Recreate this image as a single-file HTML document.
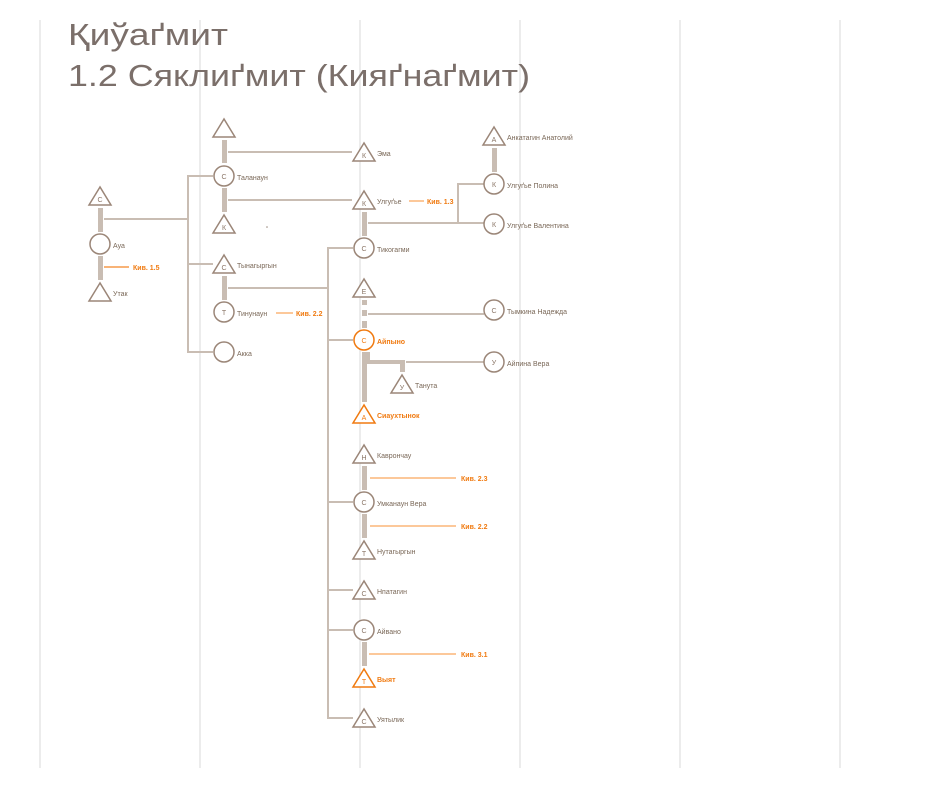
<!DOCTYPE html>
<html><head><meta charset="utf-8"><style>
html,body{margin:0;padding:0;background:#fff;}
svg{display:block;}
text{font-family:"Liberation Sans","DejaVu Sans",sans-serif;}
.l{font-size:7px;fill:#7a6858;}
.o{font-size:7px;fill:#f07a10;font-weight:bold;}
.n{font-size:7px;fill:#8a7566;text-anchor:middle;}
.no{font-size:7px;fill:#f07a10;text-anchor:middle;}
</style></head><body>
<svg width="930" height="800" viewBox="0 0 930 800" xmlns="http://www.w3.org/2000/svg">
<g stroke="#ececec" stroke-width="2">
<line x1="40" y1="20" x2="40" y2="768"/><line x1="200" y1="20" x2="200" y2="768"/>
<line x1="360" y1="20" x2="360" y2="768"/><line x1="520" y1="20" x2="520" y2="768"/>
<line x1="680" y1="20" x2="680" y2="768"/><line x1="840" y1="20" x2="840" y2="768"/>
</g>
<text x="68" y="45" font-size="31" fill="#7b6f6a" textLength="160" lengthAdjust="spacingAndGlyphs">Қиўаґмит</text>
<text x="68" y="86" font-size="31" fill="#7b6f6a" textLength="462" lengthAdjust="spacingAndGlyphs">1.2 Сяклиґмит (Кияґнаґмит)</text>

<!-- thin connectors -->
<g stroke="#c9bdb3" stroke-width="2" fill="none">
<line x1="104" y1="219" x2="188" y2="219"/>
<line x1="188" y1="176" x2="188" y2="352"/>
<line x1="187" y1="176" x2="213" y2="176"/>
<line x1="187" y1="264" x2="213" y2="264"/>
<line x1="187" y1="352" x2="213" y2="352"/>
<line x1="228" y1="152" x2="352" y2="152"/>
<line x1="228" y1="200" x2="352" y2="200"/>
<line x1="228" y1="288" x2="328" y2="288"/>
<line x1="328" y1="248" x2="328" y2="718"/>
<line x1="327" y1="248" x2="353" y2="248"/>
<line x1="327" y1="340" x2="353" y2="340"/>
<line x1="327" y1="502" x2="353" y2="502"/>
<line x1="327" y1="590" x2="353" y2="590"/>
<line x1="327" y1="630" x2="353" y2="630"/>
<line x1="327" y1="718" x2="353" y2="718"/>
<line x1="368" y1="223" x2="484" y2="223"/>
<line x1="458" y1="184" x2="458" y2="223"/>
<line x1="457" y1="184" x2="484" y2="184"/>
<line x1="368" y1="314" x2="484" y2="314"/>
<line x1="406" y1="362" x2="484" y2="362"/>
</g>
<!-- thick bars -->
<g fill="#c9bdb3">
<rect x="222" y="140" width="5" height="23"/>
<rect x="222" y="188" width="5" height="24"/>
<rect x="98" y="208" width="5" height="24"/>
<rect x="98" y="256" width="5" height="24"/>
<rect x="222" y="276" width="5" height="24"/>
<rect x="362" y="212" width="5" height="24"/>
<rect x="362" y="300" width="5" height="5"/>
<rect x="362" y="310" width="5" height="6"/>
<rect x="362" y="321" width="5" height="7"/>
<rect x="362" y="352" width="5" height="50"/>
<rect x="362" y="352" width="8" height="10"/>
<rect x="366" y="360" width="39" height="4"/>
<rect x="400" y="360" width="5" height="12"/>
<rect x="492" y="148" width="5" height="24"/>
<rect x="362" y="466" width="5" height="24"/>
<rect x="362" y="514" width="5" height="24"/>
<rect x="362" y="642" width="5" height="24"/>
</g>
<!-- orange refs -->
<g stroke="#f59a4a" stroke-width="1.5">
<line x1="104" y1="267" x2="129" y2="267"/>
</g>
<g stroke="#fcc89a" stroke-width="2">
<line x1="276" y1="313" x2="293" y2="313"/>
<line x1="409" y1="201" x2="424" y2="201"/>
<line x1="370" y1="478" x2="456" y2="478"/>
<line x1="370" y1="526" x2="456" y2="526"/>
<line x1="369" y1="654" x2="456" y2="654"/>
</g>
<text class="o" x="133" y="270">Кив. 1.5</text>
<text class="o" x="296" y="316">Кив. 2.2</text>
<text class="o" x="427" y="204">Кив. 1.3</text>
<text class="o" x="461" y="481">Кив. 2.3</text>
<text class="o" x="461" y="529">Кив. 2.2</text>
<text class="o" x="461" y="657">Кив. 3.1</text>
<circle cx="267" cy="227" r="0.8" fill="#9a8a7e"/>

<!-- nodes -->
<g fill="#fff" stroke="#9b8678" stroke-width="1.5">
<polygon points="224,119 213,137 235,137"/>
<circle cx="224" cy="176" r="10"/>
<polygon points="224,215 213,233 235,233"/>
<polygon points="224,255 213,273 235,273"/>
<circle cx="224" cy="312" r="10"/>
<circle cx="224" cy="352" r="10"/>
<polygon points="100,187 89,205 111,205"/>
<circle cx="100" cy="244" r="10"/>
<polygon points="100,283 89,301 111,301"/>
<polygon points="364,143 353,161 375,161"/>
<polygon points="364,191 353,209 375,209"/>
<circle cx="364" cy="248" r="10"/>
<polygon points="364,279 353,297 375,297"/>
<polygon points="402,375 391,393 413,393"/>
<polygon points="364,445 353,463 375,463"/>
<circle cx="364" cy="502" r="10"/>
<polygon points="364,541 353,559 375,559"/>
<polygon points="364,581 353,599 375,599"/>
<circle cx="364" cy="630" r="10"/>
<polygon points="364,709 353,727 375,727"/>
<polygon points="494,127 483,145 505,145"/>
<circle cx="494" cy="184" r="10"/>
<circle cx="494" cy="224" r="10"/>
<circle cx="494" cy="310" r="10"/>
<circle cx="494" cy="362" r="10"/>
</g>
<g fill="#fff" stroke="#f07a10" stroke-width="1.5">
<circle cx="364" cy="340" r="10"/>
<polygon points="364,405 353,423 375,423"/>
<polygon points="364,669 353,687 375,687"/>
</g>
<!-- node letters -->
<text class="n" x="224" y="179">С</text>
<text class="n" x="224" y="230">К</text>
<text class="n" x="224" y="270">С</text>
<text class="n" x="224" y="315">Т</text>
<text class="n" x="100" y="202">С</text>
<text class="n" x="364" y="158">К</text>
<text class="n" x="364" y="206">К</text>
<text class="n" x="364" y="251">С</text>
<text class="n" x="364" y="294">Е</text>
<text class="no" x="364" y="343">С</text>
<text class="n" x="402" y="390">У</text>
<text class="no" x="364" y="420">А</text>
<text class="n" x="364" y="460">Н</text>
<text class="n" x="364" y="505">С</text>
<text class="n" x="364" y="556">Т</text>
<text class="n" x="364" y="596">С</text>
<text class="n" x="364" y="633">С</text>
<text class="no" x="364" y="684">Т</text>
<text class="n" x="364" y="724">С</text>
<text class="n" x="494" y="142">А</text>
<text class="n" x="494" y="187">К</text>
<text class="n" x="494" y="227">К</text>
<text class="n" x="494" y="313">С</text>
<text class="n" x="494" y="365">У</text>
<!-- labels -->
<text class="l" x="237" y="180">Таланаун</text>
<text class="l" x="237" y="268">Тынагыргын</text>
<text class="l" x="237" y="316">Тинунаун</text>
<text class="l" x="237" y="356">Акка</text>
<text class="l" x="113" y="248">Ауа</text>
<text class="l" x="113" y="296">Утак</text>
<text class="l" x="377" y="156">Эма</text>
<text class="l" x="377" y="204">Улгуґье</text>
<text class="l" x="377" y="252">Тикогагми</text>
<text class="o" x="377" y="344">Айпыно</text>
<text class="l" x="415" y="388">Танута</text>
<text class="o" x="377" y="418">Сиаухтынок</text>
<text class="l" x="377" y="458">Каврончау</text>
<text class="l" x="377" y="506">Умканаун Вера</text>
<text class="l" x="377" y="554">Нутагыргын</text>
<text class="l" x="377" y="594">Нпатагин</text>
<text class="l" x="377" y="634">Айвано</text>
<text class="o" x="377" y="682">Выят</text>
<text class="l" x="377" y="722">Уятылик</text>
<text class="l" x="507" y="140">Анкатагин Анатолий</text>
<text class="l" x="507" y="188">Улгуґье Полина</text>
<text class="l" x="507" y="228">Улгуґье Валентина</text>
<text class="l" x="507" y="314">Тымкина Надежда</text>
<text class="l" x="507" y="366">Айпина Вера</text>
</svg>
</body></html>
